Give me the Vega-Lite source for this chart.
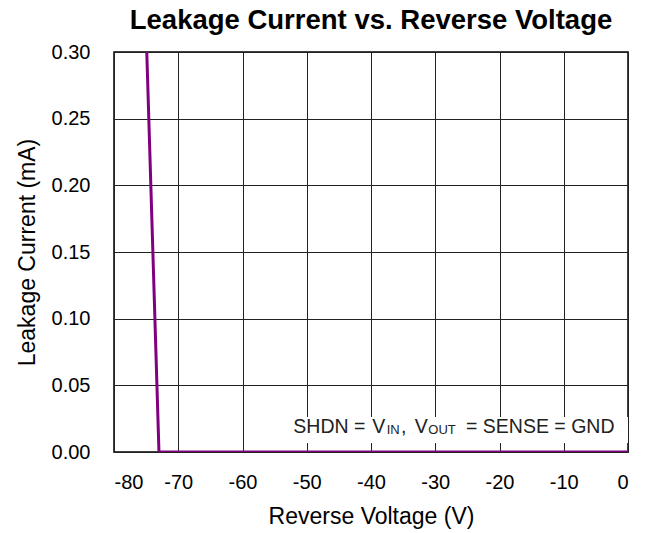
{
  "$schema": "https://vega.github.io/schema/vega-lite/v6.json",
  "autosize": "none",
  "width": 514,
  "height": 400,
  "padding": {"left": 114, "top": 52, "right": 24, "bottom": 81},
  "background": "white",
  "title": {
    "text": "Leakage Current vs. Reverse Voltage",
    "font": "Liberation Sans",
    "fontSize": 27.5,
    "fontWeight": "bold",
    "color": "#000000",
    "anchor": "middle",
    "offset": 8
  },
  "config": {
    "view": {"stroke": "#000000", "strokeWidth": 1.5},
    "font": "Liberation Sans"
  },
  "datasets": {
    "curve": [
      {"v": -74.9, "i": 0.30},
      {"v": -73.0, "i": 0.0},
      {"v": 0.0, "i": 0.0}
    ],
    "box": [{"x1": -52.8, "x2": 0, "y1": 0.0068, "y2": 0.0262}],
    "mainText": [
      {"x": -52.09, "y": 0.014, "t": "SHDN ="},
      {"x": -39.81, "y": 0.014, "t": "V"},
      {"x": -35.33, "y": 0.014, "t": ","},
      {"x": -33.2, "y": 0.014, "t": "V"},
      {"x": -25.21, "y": 0.014, "t": "= SENSE = GND"}
    ],
    "subText": [
      {"x": -37.56, "y": 0.014, "t": "IN"},
      {"x": -31.08, "y": 0.014, "t": "OUT"}
    ]
  },
  "layer": [
    {
      "data": {"name": "box"},
      "mark": {"type": "rect", "fill": "white", "stroke": null},
      "encoding": {
        "x": {
          "field": "x1", "type": "quantitative",
          "scale": {"domain": [-80, 0], "nice": false},
          "axis": {
            "title": "Reverse Voltage (V)",
            "values": [-80, -70, -60, -50, -40, -30, -20, -10, 0],
            "labelExpr": "datum.value < 0 ? '-' + abs(datum.value) : '' + datum.value",
            "grid": true,
            "gridColor": "#222222",
            "gridWidth": 1,
            "gridOpacity": 1,
            "ticks": false,
            "domain": false,
            "labelFontSize": 20,
            "labelColor": "#000000",
            "labelPadding": 20,
            "titleFontSize": 23,
            "titleFontWeight": "normal",
            "titleColor": "#000000",
            "titlePadding": 13
          }
        },
        "x2": {"field": "x2"},
        "y": {
          "field": "y1", "type": "quantitative",
          "scale": {"domain": [0, 0.3], "nice": false},
          "axis": {
            "title": "Leakage Current (mA)",
            "values": [0, 0.05, 0.1, 0.15, 0.2, 0.25, 0.3],
            "format": ".2f",
            "grid": true,
            "gridColor": "#222222",
            "gridWidth": 1,
            "gridOpacity": 1,
            "ticks": false,
            "domain": false,
            "labelFontSize": 20,
            "labelColor": "#000000",
            "labelPadding": 24,
            "titleFontSize": 23,
            "titleFontWeight": "normal",
            "titleColor": "#000000",
            "titlePadding": 12
          }
        },
        "y2": {"field": "y2"}
      }
    },
    {
      "data": {"name": "mainText"},
      "mark": {"type": "text", "align": "left", "baseline": "alphabetic", "fontSize": 19.5, "color": "#222222", "font": "Liberation Sans"},
      "encoding": {
        "x": {"field": "x", "type": "quantitative"},
        "y": {"field": "y", "type": "quantitative"},
        "text": {"field": "t"}
      }
    },
    {
      "data": {"name": "subText"},
      "mark": {"type": "text", "align": "left", "baseline": "alphabetic", "fontSize": 13, "dy": 1, "color": "#222222", "font": "Liberation Sans"},
      "encoding": {
        "x": {"field": "x", "type": "quantitative"},
        "y": {"field": "y", "type": "quantitative"},
        "text": {"field": "t"}
      }
    },
    {
      "data": {"name": "curve"},
      "mark": {"type": "line", "color": "#800080", "strokeWidth": 3, "clip": true},
      "encoding": {
        "x": {"field": "v", "type": "quantitative"},
        "y": {"field": "i", "type": "quantitative"}
      }
    }
  ]
}
